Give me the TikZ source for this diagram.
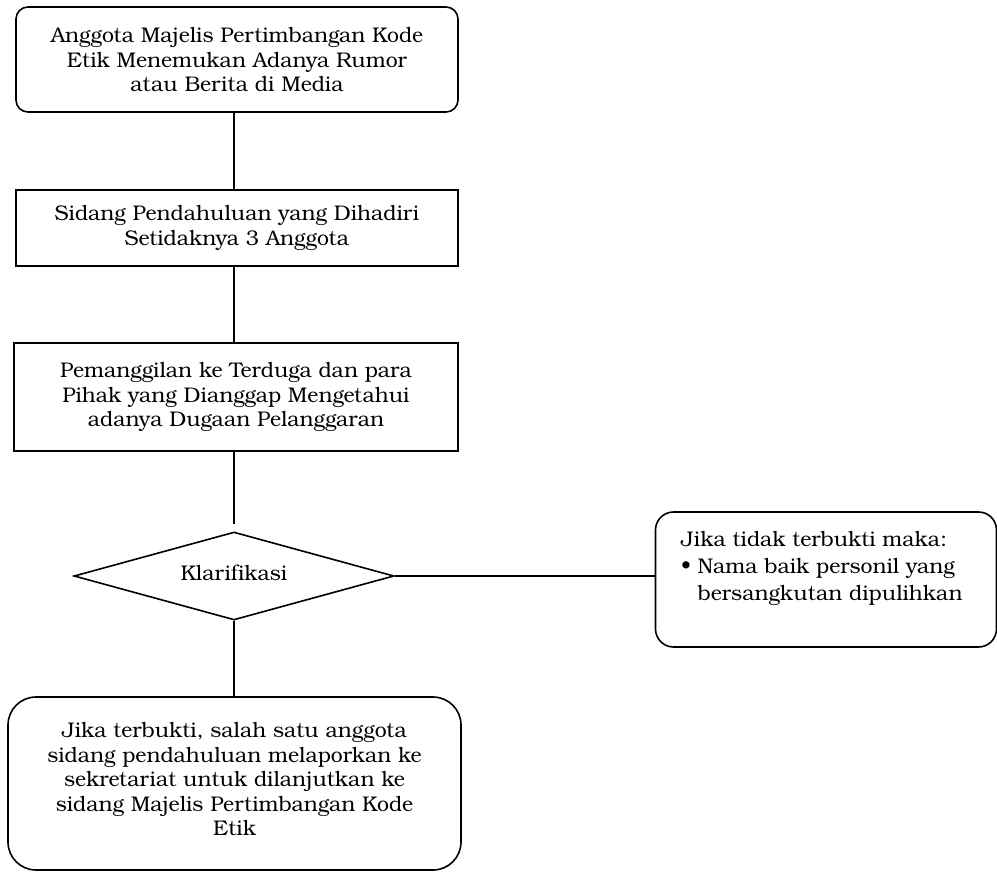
\documentclass[tikz,border=0pt]{standalone}
\usepackage{fontspec}
\setmainfont[Ligatures={NoCommon}]{texgyrebonum-regular.otf}
\usetikzlibrary{shapes.geometric}
\begin{document}
\begin{tikzpicture}[x=1pt,y=-1pt,
  every node/.style={font=\fontsize{21.2}{24.5}\selectfont},
  rbox/.style={draw,line width=1.6pt,rounded corners=#1,align=center,inner sep=0pt},
  sbox/.style={draw,line width=1.6pt,align=center,inner sep=0pt},
  link/.style={line width=1.6pt}]
\useasboundingbox (0,0) rectangle (997,872);
\node[rbox=12pt,minimum width=442,minimum height=105] (b1) at (237,59.5)
  {Anggota Majelis Pertimbangan Kode\\Etik Menemukan Adanya Rumor\\atau Berita di Media};
\node[sbox,minimum width=442,minimum height=76] (b2) at (237,228)
  {Sidang Pendahuluan yang Dihadiri\\Setidaknya 3 Anggota};
\node[sbox,minimum width=444,minimum height=108] (b3) at (236,397)
  {Pemanggilan ke Terduga dan para\\Pihak yang Dianggap Mengetahui\\adanya Dugaan Pelanggaran};
\node[draw,line width=1.6pt,shape=diamond,aspect=3.6,inner sep=0pt,minimum width=320,minimum height=88] (d) at (234,576) {};
\node (dt) at (234,573) {Klarifikasi};
\node[rbox=18pt,minimum width=341,minimum height=135] (b4) at (826,579.5) {};
\node[align=left,anchor=north west,inner sep=0pt] (b4t) at (681,531)
  {Jika tidak terbukti maka:\\[2.5pt]\textbullet\ Nama baik personil yang\\[2.5pt]\hphantom{\textbullet\ }bersangkutan dipulihkan};
\node[rbox=28pt,minimum width=453,minimum height=173] (b5) at (234.5,783.5) {};
\node[align=center,inner sep=0pt] (b5t) at (234.5,779)
  {Jika terbukti, salah satu anggota\\sidang pendahuluan melaporkan ke\\sekretariat untuk dilanjutkan ke\\sidang Majelis Pertimbangan Kode\\Etik};
\draw[link] (b1.south -| d.north) -- (b2.north -| d.north);
\draw[link] (b2.south -| d.north) -- (b3.north -| d.north);
\draw[link,shorten >=7pt] (b3.south -| d.north) -- (d.north);
\draw[link] (d.east) -- (d.east -| b4.west);
\draw[link] (d.south) -- (b5.north -| d.south);
\end{tikzpicture}
\end{document}
